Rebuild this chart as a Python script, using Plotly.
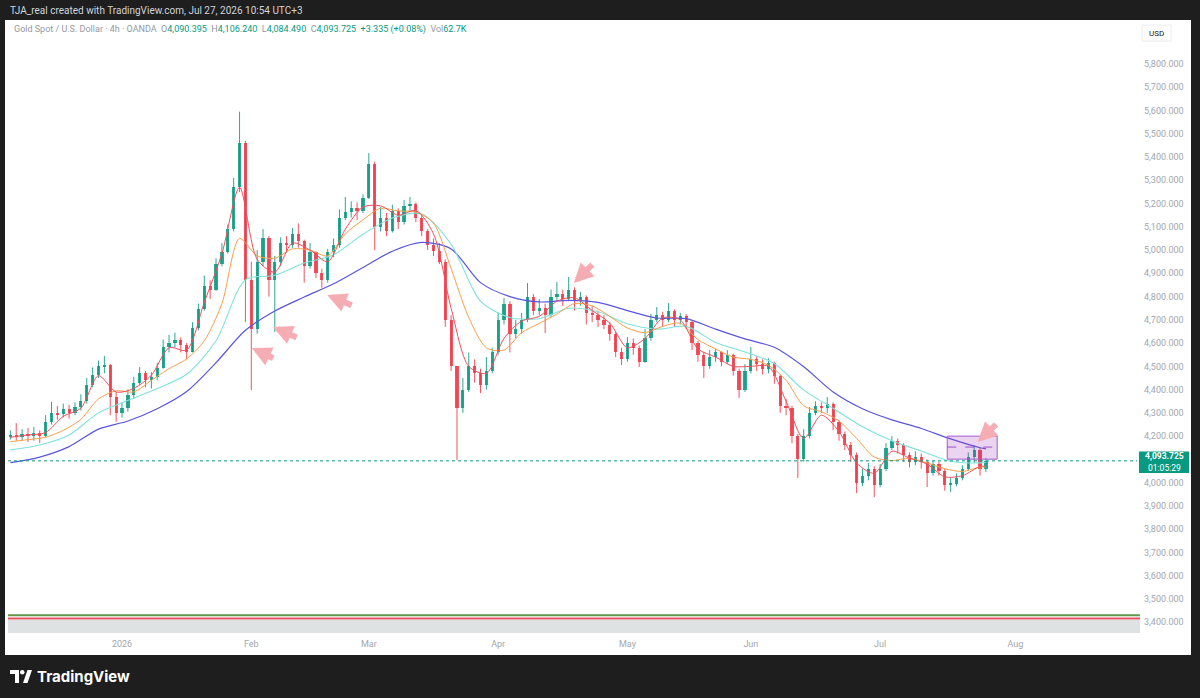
import pandas as pd
import plotly.graph_objects as go

# ---- daily candles (weekdays Dec 5 2025 .. Jul 27 2026)
first_open = 4195
closes = [
    # Dec
    4205, 4195, 4210, 4200, 4215, 4200, 4260, 4300, 4295, 4315, 4300, 4325, 4350, 4420, 4465, 4500, 4505, 4370, 4300,
    # Jan
    4320, 4375, 4430, 4470, 4440, 4455, 4495, 4585, 4600, 4615, 4590, 4560, 4665, 4745, 4845, 4830, 4940, 4990, 5090,
    5270, 5460, 4870,
    # Feb
    4660, 4950, 5050, 4870, 4950, 5030, 5020, 5070, 5040, 4930, 4990, 4900, 4870, 4990, 5020, 5140, 5165, 5180, 5170,
    5225,
    # Mar
    5370, 5100, 5140, 5080, 5170, 5120, 5190, 5200, 5140, 5080, 5020, 4995, 4950, 4700, 4500, 4320, 4400, 4500, 4470,
    4420, 4480, 4560,
    # Apr
    4700, 4770, 4640, 4660, 4700, 4800, 4740, 4750, 4720, 4800, 4810, 4790, 4830, 4780, 4800, 4730, 4720, 4700, 4680,
    4640, 4560, 4530,
    # May
    4600, 4580, 4520, 4620, 4700, 4720, 4700, 4740, 4700, 4715, 4690, 4600, 4550, 4500, 4540, 4560, 4520, 4550, 4480,
    4400, 4480,
    # Jun
    4530, 4510, 4490, 4515, 4460, 4330, 4320, 4200, 4100, 4200, 4300, 4330, 4320, 4340, 4260, 4210, 4160, 4120, 4000,
    4030, 4060, 3990,
    # Jul
    4060, 4150, 4180, 4160, 4120, 4090, 4110, 4090, 4040, 4080, 4050, 3990, 3995, 4020, 4060, 4110, 4140, 4060, 4093.725,
]
highs = [
    4225, 4256, 4230, 4235, 4240, 4225, 4290, 4347, 4330, 4340, 4335, 4345, 4380, 4450, 4495, 4525, 4545, 4510, 4390,
    4345, 4400, 4455, 4497, 4480, 4475, 4515, 4615, 4635, 4645, 4625, 4600, 4690, 4770, 4890, 4870, 4965, 5030, 5110,
    5310, 5595, 5470,
    4950, 5000, 5090, 5060, 4975, 5055, 5060, 5095, 5115, 5045, 5030, 4995, 4920, 5005, 5050, 5175, 5228, 5210, 5205,
    5240,
    5417, 5380, 5185, 5160, 5195, 5180, 5215, 5228, 5205, 5150, 5090, 5050, 5030, 4960, 4720, 4500, 4450, 4560, 4530,
    4490, 4540, 4580,
    4730, 4794, 4780, 4700, 4730, 4858, 4810, 4790, 4770, 4830, 4863, 4830, 4884, 4840, 4820, 4805, 4760, 4740, 4720,
    4690, 4650, 4580,
    4626, 4620, 4590, 4660, 4725, 4755, 4735, 4772, 4745, 4730, 4725, 4695, 4610, 4560, 4570, 4575, 4565, 4570, 4555,
    4490, 4510,
    4583, 4545, 4530, 4535, 4520, 4465, 4360, 4330, 4210, 4230, 4325, 4350, 4345, 4368, 4345, 4270, 4220, 4175, 4130,
    4060, 4085, 4070,
    4080, 4170, 4200, 4190, 4170, 4130, 4135, 4125, 4100, 4095, 4090, 4060, 4020, 4040, 4075, 4130, 4160, 4150, 4106.24,
]
lows = [
    4185, 4180, 4180, 4175, 4180, 4170, 4195, 4250, 4270, 4280, 4275, 4290, 4310, 4340, 4410, 4450, 4470, 4290, 4262,
    4280, 4305, 4360, 4420, 4410, 4405, 4440, 4490, 4560, 4580, 4560, 4530, 4560, 4655, 4740, 4790, 4825, 4930, 4985,
    5080, 5250, 4690,
    4398, 4640, 4930, 4800, 4648, 4930, 4990, 5010, 5010, 4860, 4920, 4880, 4838, 4860, 4970, 5010, 5130, 5140, 5130,
    5160,
    5220, 5000, 5080, 5060, 5075, 5090, 5110, 5165, 5120, 5060, 5000, 4975, 4940, 4670, 4480, 4097, 4300, 4390, 4430,
    4385, 4400, 4470,
    4550, 4680, 4560, 4620, 4640, 4690, 4720, 4720, 4643, 4710, 4780, 4760, 4780, 4740, 4760, 4680, 4690, 4670, 4660,
    4610, 4540, 4506,
    4520, 4550, 4497, 4515, 4610, 4690, 4670, 4690, 4670, 4680, 4660, 4570, 4520, 4450, 4490, 4520, 4500, 4510, 4460,
    4364, 4390,
    4470, 4480, 4465, 4470, 4425, 4300, 4290, 4170, 4020, 4090, 4190, 4290, 4300, 4300, 4225, 4180, 4140, 4090, 3955,
    3985, 4010, 3938,
    3980, 4050, 4140, 4125, 4090, 4065, 4075, 4060, 3981, 4030, 4030, 3965, 3960, 3985, 4010, 4050, 4085, 4030, 4045,
]

# moving averages (every 3rd / 5th session + last one)
ma_fast = [4195, 4205, 4215, 4285, 4320, 4460, 4390, 4405, 4462, 4580, 4570, 4775, 4985, 5270, 4960, 4905, 5030, 5000,
           4950, 5090, 5185, 5190, 5150, 5170, 5070, 4750, 4500, 4470, 4620, 4695, 4715, 4780, 4795, 4740, 4686, 4580,
           4620, 4708, 4700, 4575, 4540, 4500, 4500, 4500, 4350, 4190, 4290, 4220, 4085, 4040, 4135, 4105, 4080, 4025,
           4030, 4070, 4070]
ma_mid = [4176, 4185, 4195, 4225, 4272, 4360, 4395, 4390, 4440, 4490, 4532, 4610, 4770, 5050, 4975, 4965, 5005, 5000,
          4975, 5070, 5130, 5180, 5168, 5164, 5116, 4920, 4710, 4580, 4570, 4645, 4685, 4725, 4770, 4760, 4715, 4665,
          4645, 4672, 4685, 4615, 4575, 4540, 4530, 4505, 4440, 4330, 4305, 4265, 4190, 4110, 4095, 4105, 4085, 4060,
          4048, 4067, 4067]
ma_slow = [4141, 4162, 4205, 4300, 4353, 4405, 4466, 4610, 4872, 4892, 4944, 4980, 5068, 5138, 5155, 5025, 4780, 4710,
           4705, 4750, 4735, 4683, 4660, 4672, 4603, 4562, 4512, 4398, 4320, 4240, 4180, 4136, 4092, 4085, 4088]
ma_long = [4086, 4110, 4155, 4230, 4265, 4318, 4392, 4516, 4655, 4738, 4798, 4855, 4925, 4995, 5033, 5005, 4860, 4800,
           4777, 4784, 4775, 4740, 4708, 4705, 4660, 4618, 4582, 4498, 4390, 4318, 4270, 4233, 4188, 4150, 4145]

month_ticks = ["2026-01-01", "2026-02-02", "2026-03-02", "2026-04-01", "2026-05-01", "2026-06-01", "2026-07-01",
               "2026-08-03"]
month_labels = ["2026", "Feb", "Mar", "Apr", "May", "Jun", "Jul", "Aug"]
# 4,100 sits under the last-price tag, so the axis leaves it out
price_ticks = [3400, 3500, 3600, 3700, 3800, 3900, 4000, 4200, 4300, 4400, 4500, 4600, 4700, 4800, 4900, 5000,
               5100, 5200, 5300, 5400, 5500, 5600, 5700, 5800]
last_price = 4093.725

# arrows drawn on the chart: tip (date, price) and tail offset in px
arrows = [("2026-02-02 02:00", 4579, 23, 11),
          ("2026-02-05 17:00", 4669, 25, 11),
          ("2026-02-18 22:00", 4807, 26, 11),
          ("2026-04-17 21:00", 4858, 20, -20),
          ("2026-07-23 14:00", 4175, 20, -19)]

days = pd.bdate_range("2025-12-05", "2026-07-27")
opens = [first_open] + closes[:-1]
fast_days = list(days[::3]) + [days[-1]]
slow_days = list(days[::5]) + [days[-1]]

TEAL = "#089981"
RED = "#f23645"

# plot area in screen pixels, used for things drawn outside the axes
PL, PR, PT, PB = 8, 1137, 21, 633


def px(x):
    return (x - PL) / (PR - PL)


def py(y):
    return (PB - y) / (PB - PT)


fig = go.Figure()

# candles: wicks as lines, bodies as bars (keeps bodies thin like the 4h chart)
up = [c >= o for o, c in zip(opens, closes)]
for is_up, color in [(True, TEAL), (False, RED)]:
    wx, wy = [], []
    for d, h, l, u in zip(days, highs, lows, up):
        if u == is_up:
            wx += [d, d, None]
            wy += [l, h, None]
    fig.add_trace(go.Scatter(x=wx, y=wy, mode="lines", line=dict(color=color, width=1), opacity=0.85,
                             showlegend=False, hoverinfo="skip"))
fig.add_trace(go.Bar(x=days, base=[min(o, c) for o, c in zip(opens, closes)],
                     y=[max(abs(c - o), 2) for o, c in zip(opens, closes)],
                     width=0.55 * 86400000, marker=dict(color=[TEAL if u else RED for u in up], line=dict(width=0)),
                     opacity=0.85, showlegend=False, hoverinfo="skip"))

for xs, ys, color, w in [(slow_days, ma_long, "#5b55e0", 1.2),
                         (slow_days, ma_slow, "#7fe3dc", 1.1),
                         (fast_days, ma_mid, "#f7a04b", 1),
                         (fast_days, ma_fast, "#f0505c", 1)]:
    fig.add_trace(go.Scatter(x=xs, y=ys, mode="lines", line=dict(color=color, width=w, shape="spline", smoothing=0.8),
                             showlegend=False, hoverinfo="skip"))

shapes = [
    # white chart panel inside the dark frame
    dict(type="rect", xref="paper", yref="paper", x0=px(5), x1=px(1191), y0=py(655), y1=py(20),
         fillcolor="white", line=dict(width=0), layer="below"),
    # bottom band
    dict(type="rect", xref="paper", yref="y", x0=0, x1=px(1140), y0=3353.5, y1=3409,
         fillcolor="#dfe2e2", line=dict(width=0)),
    dict(type="line", xref="paper", yref="y", x0=0, x1=px(1140), y0=3430, y1=3430,
         line=dict(color="#5f9a4c", width=2)),
    dict(type="line", xref="paper", yref="y", x0=0, x1=px(1140), y0=3416, y1=3416,
         line=dict(color="#e5525a", width=2)),
    # last price line
    dict(type="line", xref="paper", yref="y", x0=0, x1=1, y0=last_price, y1=last_price,
         line=dict(color=TEAL, width=1, dash="dot")),
    # purple zone
    dict(type="rect", xref="x", yref="y", x0="2026-07-16 10:00", x1="2026-07-28 22:00", y0=4101, y1=4200,
         fillcolor="rgba(156,39,176,0.2)", line=dict(color="#a05ad0", width=1)),
    dict(type="line", xref="x", yref="y", x0="2026-07-16 10:00", x1="2026-07-28 22:00", y0=4153, y1=4153,
         line=dict(color="#9c4fc9", width=1, dash="dash")),
    # price tag on the axis
    dict(type="rect", xref="paper", yref="y", x0=px(1139), x1=px(1189), y0=last_price - 52, y1=last_price + 40,
         fillcolor=TEAL, line=dict(width=0)),
    # USD box
    dict(type="rect", xref="paper", yref="paper", x0=px(1142), x1=px(1171), y0=py(41), y1=py(25),
         fillcolor="white", line=dict(color="#ececec", width=1)),
    # TradingView logo mark
    dict(type="rect", xref="paper", yref="paper", x0=px(10), x1=px(19), y0=py(674), y1=py(670),
         fillcolor="white", line=dict(width=0)),
    dict(type="rect", xref="paper", yref="paper", x0=px(15), x1=px(19), y0=py(683), y1=py(670),
         fillcolor="white", line=dict(width=0)),
    dict(type="circle", xref="paper", yref="paper", x0=px(20), x1=px(24.5), y0=py(674.5), y1=py(670),
         fillcolor="white", line=dict(width=0)),
    dict(type="path", xref="paper", yref="paper",
         path="M {0},{1} L {2},{1} L {3},{4} L {5},{4} Z".format(px(23), py(683), px(27.5), px(32), py(670),
                                                                  px(27.5)),
         fillcolor="white", line=dict(width=0)),
]

grey = "#9598a1"
header = ("Gold Spot / U.S. Dollar · 4h · OANDA\u00a0\u00a0"
          "O<span style='color:#089981'>4,090.395</span>\u00a0\u00a0"
          "H<span style='color:#089981'>4,106.240</span>\u00a0\u00a0"
          "L<span style='color:#089981'>4,084.490</span>\u00a0\u00a0"
          "C<span style='color:#089981'>4,093.725</span>\u00a0\u00a0"
          "<span style='color:#089981'>+3.335 (+0.08%)</span>\u00a0\u00a0"
          "Vol<span style='color:#089981'>62.7K</span>")
annotations = [
    dict(xref="paper", yref="paper", x=px(8), y=py(10), xanchor="left", yanchor="middle", showarrow=False,
         text="TJA_real created with TradingView.com, Jul 27, 2026 10:54 UTC+3",
         font=dict(size=10, color="#d1d4dc")),
    dict(xref="paper", yref="paper", x=px(12), y=py(30), xanchor="left", yanchor="middle", showarrow=False,
         text=header, font=dict(size=9, color=grey)),
    dict(xref="paper", yref="paper", x=px(1156.5), y=py(33), xanchor="center", yanchor="middle", showarrow=False,
         text="USD", font=dict(size=8, color="#131722")),
    dict(xref="paper", yref="y", x=px(1164), y=last_price + 22, xanchor="center", yanchor="middle", showarrow=False,
         text="<b>4,093.725</b>", borderpad=0, font=dict(size=8.5, color="white")),
    dict(xref="paper", yref="y", x=px(1164), y=last_price - 32, xanchor="center", yanchor="middle", showarrow=False,
         text="01:05:29", borderpad=0, font=dict(size=8.5, color="white")),
    dict(xref="paper", yref="paper", x=px(35), y=py(676), xanchor="left", yanchor="middle", showarrow=False,
         text="<b>TradingView</b>", font=dict(family="Inter", size=15, color="white")),
]
for tip_x, tip_y, ax, ay in arrows:
    annotations.append(dict(x=tip_x, y=tip_y, xref="x", yref="y", ax=ax, ay=ay, text="", showarrow=True,
                            arrowhead=2, arrowsize=0.65, arrowwidth=6, arrowcolor="#f5adb3", standoff=0))

fig.update_layout(width=1200, height=698, margin=dict(l=PL, r=1200 - PR, t=PT, b=698 - PB),
                  paper_bgcolor="#1e1e1e", plot_bgcolor="white", showlegend=False, bargap=0,
                  font=dict(family="Roboto", size=9, color=grey),
                  shapes=shapes, annotations=annotations, hovermode=False)
fig.update_xaxes(type="date", range=["2025-12-04 14:24", "2026-08-31 17:00"],
                 rangebreaks=[dict(bounds=["sat", "mon"])], rangeslider_visible=False,
                 showgrid=False, zeroline=False, showline=False, ticks="", ticklabelstandoff=4,
                 tickvals=month_ticks, ticktext=month_labels, tickfont=dict(size=9, color="#a3a6ae"))
fig.update_yaxes(side="right", range=[3353.5, 5985], tickvals=price_ticks, tickformat=",.3f",
                 showgrid=False, zeroline=False, showline=False, ticks="", ticklabelstandoff=6,
                 tickfont=dict(size=9, color="#a3a6ae"))

fig.write_html("out.html", config={"displayModeBar": False},
               post_script="document.body.style.margin='0';document.body.style.background='#1e1e1e';")
